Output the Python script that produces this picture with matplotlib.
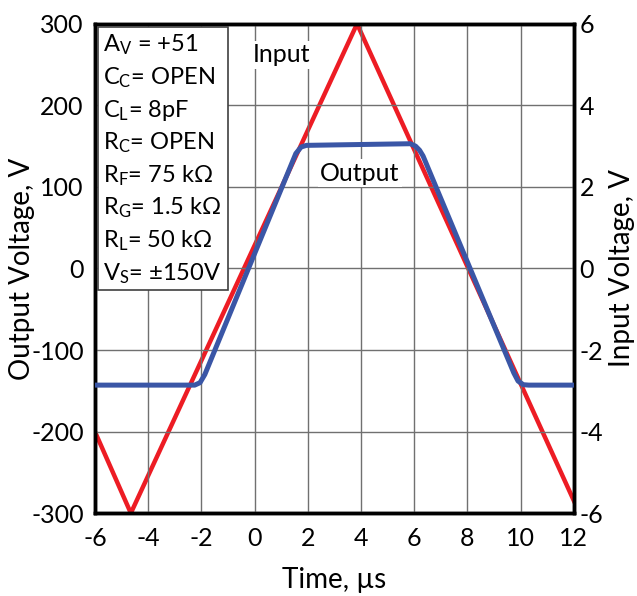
import matplotlib.pyplot as plt

plt.rcParams['font.family'] = ['Lato', 'DejaVu Sans']
plt.rcParams['mathtext.fontset'] = 'custom'
plt.rcParams['mathtext.rm'] = 'Lato'
plt.rcParams['mathtext.it'] = 'Lato'
plt.rcParams['axes.unicode_minus'] = False

# Input triangle (right axis, V)
input_t = [-6, -4.65, 3.85, 12]
input_v = [-4.0, -6.0, 6.0, -5.7]

# Output (left axis, V)
output_t = [-6, -2.25, -2.05, -1.87, 1.55, 1.75, 1.95, 5.85, 6.05, 6.2, 6.33, 9.74, 9.9, 10.1, 10.3, 12]
output_v = [-143, -143, -140, -130, 141, 149, 151, 153, 150, 145, 138, -128, -138, -142.5, -143, -143]

params = ['A$_\\mathrm{V}$ = +51', 'C$_\\mathrm{C}$= OPEN', 'C$_\\mathrm{L}$= 8pF',
          'R$_\\mathrm{C}$= OPEN', 'R$_\\mathrm{F}$= 75 k\u03a9', 'R$_\\mathrm{G}$= 1.5 k\u03a9',
          'R$_\\mathrm{L}$= 50 k\u03a9', 'V$_\\mathrm{S}$= \u00b1150V']

fig = plt.figure(figsize=(6.37, 5.96), dpi=100)
ax = fig.add_axes([0.149, 0.139, 0.752, 0.821])
ax2 = ax.twinx()

ax.set_xlim(-6, 12)
ax.set_ylim(-300, 300)
ax2.set_ylim(-6, 6)
ax.set_xticks(range(-6, 13, 2))
ax.set_yticks(range(-300, 301, 100))
ax2.set_yticks(range(-6, 7, 2))
ax.grid(True, color='#707070', linewidth=1)
ax.set_axisbelow(True)

ax2.plot(input_t, input_v, color='#ED1C24', linewidth=3.2, solid_joinstyle='miter', zorder=2)
ax.plot(output_t, output_v, color='#3A56A6', linewidth=3.6, zorder=3)
ax.set_zorder(ax2.get_zorder() + 1)
ax.patch.set_visible(False)

for a in (ax, ax2):
    a.tick_params(length=0, labelsize=18, pad=4)
    for s in a.spines.values():
        s.set_linewidth(2.5)
ax.tick_params(axis='x', pad=10)
ax.tick_params(axis='y', pad=8)

ax.set_xlabel('Time, \u00b5s', fontsize=20, labelpad=12)
ax.set_ylabel('Output Voltage, V', fontsize=20)
ax.yaxis.set_label_coords(-0.125, 0.5)
ax2.set_ylabel('Input Voltage, V', fontsize=20, labelpad=4)

# parameter box
box = plt.Rectangle((-5.89, -26), 4.88, 322, facecolor='white', edgecolor='#404040',
                    linewidth=1.2, zorder=4)
ax.add_patch(box)
for i, s in enumerate(params):
    ax.text(-5.68, 274 - i * 40, s, fontsize=17, va='center', ha='left', zorder=5)

ax.text(1.0, 262, 'Input', fontsize=18, ha='center', va='center', zorder=5,
        bbox=dict(facecolor='white', edgecolor='none', pad=2))
ax.text(3.96, 117, 'Output', fontsize=18, ha='center', va='center', zorder=5,
        bbox=dict(facecolor='white', edgecolor='none', pad=2))

plt.savefig('out.png', dpi=100)
